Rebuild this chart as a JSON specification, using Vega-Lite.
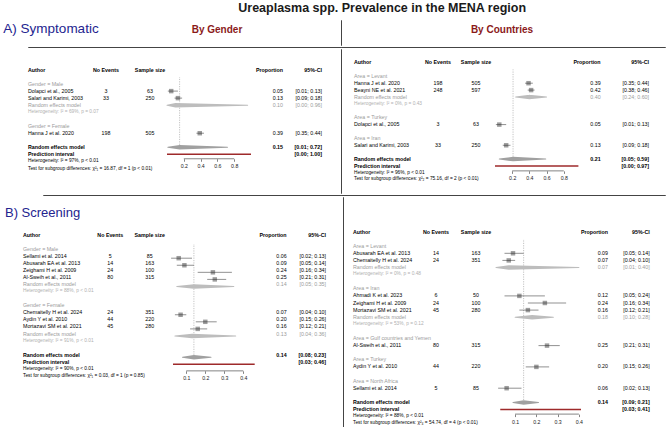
{
"$schema": "https://vega.github.io/schema/vega-lite/v6.json",
"padding": {"left": 0, "top": 2, "right": 0, "bottom": 0},
"title": {"text": "Ureaplasma spp. Prevalence in the MENA region", "anchor": "middle", "dx": 48, "fontSize": 12.5, "font": "Liberation Sans", "fontWeight": "bold", "color": "#1a1a1a", "offset": 5},
"config": {
 "view": {"stroke": null},
 "text": {"font": "Liberation Sans", "fontSize": 5.3},
 "axis": {"labelFont": "Liberation Sans", "labelOverlap": false, "labelFlush": false}
},
"datasets": {
 "none": [],
 "headers": [
  {"col": "author", "text": "Author"},
  {"col": "events", "text": "No Events"},
  {"col": "n", "text": "Sample size"},
  {"col": "p", "text": "Proportion"},
  {"col": "ci", "text": "95%-CI"}
 ],
 "rows": [
  {"panel":"A1","row":1,"type":"group","label":"Gender = Male"},
  {"panel":"A1","row":2,"type":"study","label":"Dolapci et al., 2005","events":3,"n":63,"p":0.05,"lo":0.01,"hi":0.13,"ci":"[0.01; 0.13]"},
  {"panel":"A1","row":3,"type":"study","label":"Salari and Karimi, 2003","events":33,"n":250,"p":0.13,"lo":0.09,"hi":0.18,"ci":"[0.09; 0.18]"},
  {"panel":"A1","row":4,"type":"sub","label":"Random effects model","p":0.10,"lo":0.00,"hi":0.96,"ci":"[0.00; 0.96]"},
  {"panel":"A1","row":5,"type":"het","label":"Heterogeneity: I² = 69%, p = 0.07"},
  {"panel":"A1","row":7,"type":"group","label":"Gender = Female"},
  {"panel":"A1","row":8,"type":"study","label":"Hanna J  et al. 2020","events":198,"n":505,"p":0.39,"lo":0.35,"hi":0.44,"ci":"[0.35; 0.44]"},
  {"panel":"A1","row":10,"type":"overall","label":"Random effects model","p":0.15,"lo":0.01,"hi":0.72,"ci":"[0.01; 0.72]"},
  {"panel":"A1","row":11,"type":"pi","label":"Prediction interval","lo":0.00,"hi":1.00,"ci":"[0.00; 1.00]"},
  {"panel":"A1","row":12,"type":"hetall","label":"Heterogeneity: I² = 97%, p < 0.01"},
  {"panel":"A1","row":13,"type":"test","label":"Test for subgroup differences: χ²₁ = 16.87, df = 1 (p < 0.01)"},

  {"panel":"A2","row":1,"type":"group","label":"Area = Levant"},
  {"panel":"A2","row":2,"type":"study","label":"Hanna J  et al. 2020","events":198,"n":505,"p":0.39,"lo":0.35,"hi":0.44,"ci":"[0.35; 0.44]"},
  {"panel":"A2","row":3,"type":"study","label":"Beayni NE et al. 2021","events":248,"n":597,"p":0.42,"lo":0.38,"hi":0.46,"ci":"[0.38; 0.46]"},
  {"panel":"A2","row":4,"type":"sub","label":"Random effects model","p":0.40,"lo":0.24,"hi":0.60,"ci":"[0.24; 0.60]"},
  {"panel":"A2","row":5,"type":"het","label":"Heterogeneity: I² = 0%, p = 0.43"},
  {"panel":"A2","row":7,"type":"group","label":"Area = Turkey"},
  {"panel":"A2","row":8,"type":"study","label":"Dolapci et al., 2005","events":3,"n":63,"p":0.05,"lo":0.01,"hi":0.13,"ci":"[0.01; 0.13]"},
  {"panel":"A2","row":10,"type":"group","label":"Area = Iran"},
  {"panel":"A2","row":11,"type":"study","label":"Salari and Karimi, 2003","events":33,"n":250,"p":0.13,"lo":0.09,"hi":0.18,"ci":"[0.09; 0.18]"},
  {"panel":"A2","row":13,"type":"overall","label":"Random effects model","p":0.21,"lo":0.05,"hi":0.59,"ci":"[0.05; 0.59]"},
  {"panel":"A2","row":14,"type":"pi","label":"Prediction interval","lo":0.00,"hi":0.97,"ci":"[0.00; 0.97]"},
  {"panel":"A2","row":15,"type":"hetall","label":"Heterogeneity: I² = 96%, p < 0.01"},
  {"panel":"A2","row":16,"type":"test","label":"Test for subgroup differences: χ²₂ = 75.16, df = 2 (p < 0.01)"},

  {"panel":"B1","row":1,"type":"group","label":"Gender = Male"},
  {"panel":"B1","row":2,"type":"study","label":"Sellami et al. 2014","events":5,"n":85,"p":0.06,"lo":0.02,"hi":0.13,"ci":"[0.02; 0.13]"},
  {"panel":"B1","row":3,"type":"study","label":"Abusarah EA et al. 2013","events":14,"n":163,"p":0.09,"lo":0.05,"hi":0.14,"ci":"[0.05; 0.14]"},
  {"panel":"B1","row":4,"type":"study","label":"Zeighami H et al. 2009","events":24,"n":100,"p":0.24,"lo":0.16,"hi":0.34,"ci":"[0.16; 0.34]"},
  {"panel":"B1","row":5,"type":"study","label":"Al-Sweih et al., 2011","events":80,"n":315,"p":0.25,"lo":0.21,"hi":0.31,"ci":"[0.21; 0.31]"},
  {"panel":"B1","row":6,"type":"sub","label":"Random effects model","p":0.14,"lo":0.05,"hi":0.35,"ci":"[0.05; 0.35]"},
  {"panel":"B1","row":7,"type":"het","label":"Heterogeneity: I² = 88%, p < 0.01"},
  {"panel":"B1","row":9,"type":"group","label":"Gender = Female"},
  {"panel":"B1","row":10,"type":"study","label":"Chemaitelly H et al. 2024","events":24,"n":351,"p":0.07,"lo":0.04,"hi":0.10,"ci":"[0.04; 0.10]"},
  {"panel":"B1","row":11,"type":"study","label":"Aydin Y et al. 2010","events":44,"n":220,"p":0.20,"lo":0.15,"hi":0.26,"ci":"[0.15; 0.26]"},
  {"panel":"B1","row":12,"type":"study","label":"Mortazavi SM et al. 2021","events":45,"n":280,"p":0.16,"lo":0.12,"hi":0.21,"ci":"[0.12; 0.21]"},
  {"panel":"B1","row":13,"type":"sub","label":"Random effects model","p":0.13,"lo":0.04,"hi":0.36,"ci":"[0.04; 0.36]"},
  {"panel":"B1","row":14,"type":"het","label":"Heterogeneity: I² = 91%, p < 0.01"},
  {"panel":"B1","row":16,"type":"overall","label":"Random effects model","p":0.14,"lo":0.08,"hi":0.23,"ci":"[0.08; 0.23]"},
  {"panel":"B1","row":17,"type":"pi","label":"Prediction interval","lo":0.03,"hi":0.46,"ci":"[0.03; 0.46]"},
  {"panel":"B1","row":18,"type":"hetall","label":"Heterogeneity: I² = 90%, p < 0.01"},
  {"panel":"B1","row":19,"type":"test","label":"Test for subgroup differences: χ²₁ = 0.03, df = 1 (p = 0.85)"},

  {"panel":"B2","row":1,"type":"group","label":"Area = Levant"},
  {"panel":"B2","row":2,"type":"study","label":"Abusarah EA et al. 2013","events":14,"n":163,"p":0.09,"lo":0.05,"hi":0.14,"ci":"[0.05; 0.14]"},
  {"panel":"B2","row":3,"type":"study","label":"Chemaitelly H et al. 2024","events":24,"n":351,"p":0.07,"lo":0.04,"hi":0.10,"ci":"[0.04; 0.10]"},
  {"panel":"B2","row":4,"type":"sub","label":"Random effects model","p":0.07,"lo":0.01,"hi":0.40,"ci":"[0.01; 0.40]"},
  {"panel":"B2","row":5,"type":"het","label":"Heterogeneity: I² = 0%, p = 0.48"},
  {"panel":"B2","row":7,"type":"group","label":"Area = Iran"},
  {"panel":"B2","row":8,"type":"study","label":"Ahmadi K et al. 2023","events":6,"n":50,"p":0.12,"lo":0.05,"hi":0.24,"ci":"[0.05; 0.24]"},
  {"panel":"B2","row":9,"type":"study","label":"Zeighami H et al. 2009","events":24,"n":100,"p":0.24,"lo":0.16,"hi":0.34,"ci":"[0.16; 0.34]"},
  {"panel":"B2","row":10,"type":"study","label":"Mortazavi SM et al. 2021","events":45,"n":280,"p":0.16,"lo":0.12,"hi":0.21,"ci":"[0.12; 0.21]"},
  {"panel":"B2","row":11,"type":"sub","label":"Random effects model","p":0.18,"lo":0.10,"hi":0.28,"ci":"[0.10; 0.28]"},
  {"panel":"B2","row":12,"type":"het","label":"Heterogeneity: I² = 53%, p = 0.12"},
  {"panel":"B2","row":14,"type":"group","label":"Area = Gulf countries and Yemen"},
  {"panel":"B2","row":15,"type":"study","label":"Al-Sweih et al., 2011","events":80,"n":315,"p":0.25,"lo":0.21,"hi":0.31,"ci":"[0.21; 0.31]"},
  {"panel":"B2","row":17,"type":"group","label":"Area = Turkey"},
  {"panel":"B2","row":18,"type":"study","label":"Aydin Y et al. 2010","events":44,"n":220,"p":0.20,"lo":0.15,"hi":0.26,"ci":"[0.15; 0.26]"},
  {"panel":"B2","row":20,"type":"group","label":"Area = North Africa"},
  {"panel":"B2","row":21,"type":"study","label":"Sellami et al. 2014","events":5,"n":85,"p":0.06,"lo":0.02,"hi":0.13,"ci":"[0.02; 0.13]"},
  {"panel":"B2","row":23,"type":"overall","label":"Random effects model","p":0.14,"lo":0.09,"hi":0.21,"ci":"[0.09; 0.21]"},
  {"panel":"B2","row":24,"type":"pi","label":"Prediction interval","lo":0.03,"hi":0.41,"ci":"[0.03; 0.41]"},
  {"panel":"B2","row":25,"type":"hetall","label":"Heterogeneity: I² = 88%, p < 0.01"},
  {"panel":"B2","row":26,"type":"test","label":"Test for subgroup differences: χ²₄ = 54.74, df = 4 (p < 0.01)"}
 ]
},
"spacing": 0,
"bounds": "full",
"vconcat": [
 {"spacing": 0, "bounds": "flush", "hconcat": [
  {"width": 102, "height": 25, "data": {"values": [{"t": "A) Symptomatic"}]}, "mark": {"type": "text", "fontSize": 13.5, "color": "#24248f", "baseline": "alphabetic", "align": "center"}, "encoding": {"text": {"field": "t"}}},
  {"width": 230, "height": 25, "data": {"values": [{"t": "By Gender"}]}, "mark": {"type": "text", "fontSize": 10, "fontWeight": "bold", "color": "#8b1a1a", "baseline": "alphabetic", "align": "center"}, "encoding": {"text": {"field": "t"}}},
  {"width": 9, "height": 0.001, "data": {"name": "none"}, "mark": "point"},
  {"width": 0.001, "height": 25, "data": {"name": "none"}, "mark": "point", "view": {"stroke": "#444", "strokeWidth": 1}},
  {"width": 320, "height": 25, "data": {"values": [{"t": "By Countries"}]}, "mark": {"type": "text", "fontSize": 10, "fontWeight": "bold", "color": "#8b1a1a", "baseline": "alphabetic", "align": "center"}, "encoding": {"text": {"field": "t"}}},
  {"width": 4, "height": 0.001, "data": {"name": "none"}, "mark": "point"}
 ]},
 {"spacing": 0, "bounds": "flush", "hconcat": [
  {"width": 28, "height": 0.001, "data": {"name": "none"}, "mark": "point"},
  {"width": 313, "height": 0.001, "data": {"name": "none"}, "mark": "point", "view": {"stroke": "#444", "strokeWidth": 1}},
  {"width": 324, "height": 0.001, "data": {"name": "none"}, "mark": "point", "view": {"stroke": "#444", "strokeWidth": 1}}
 ]},
 {"spacing": 0, "bounds": "flush", "hconcat": [
  {"width": 28, "height": 0.001, "data": {"name": "none"}, "mark": "point"},
  {"width": 51, "height": {"step": 7},
   "data": {"name": "rows"}, "transform": [{"filter": "datum.panel === 'A1'"}],
   "encoding": {"y": {"field": "row", "type": "ordinal", "scale": {"domain": ["t1","t2","h","g",1,2,3,4,5,6,7,8,9,10,11,12,13], "padding": 1.04}, "axis": null}},
   "layer": [
    {"data": {"name": "headers"}, "transform": [{"filter": "datum.col === 'author'"}], "mark": {"type": "text", "align": "left", "baseline": "middle", "fontWeight": "bold"}, "encoding": {"x": {"value": 0}, "y": {"datum": "h", "type": "ordinal"}, "text": {"field": "text"}}},
    {"transform": [{"filter": "datum.type !== 'overall' && datum.type !== 'pi'"}],
     "mark": {"type": "text", "align": "left", "baseline": "middle"},
     "encoding": {"x": {"value": 0}, "text": {"field": "label"},
      "color": {"condition": [{"test": "datum.type === 'group' || datum.type === 'sub'", "value": "#9b9b9b"}, {"test": "datum.type === 'het'", "value": "#b0b0b0"}], "value": "#000"},
      "size": {"condition": {"test": "datum.type === 'het' || datum.type === 'hetall' || datum.type === 'test'", "value": 4.8}, "value": 5.3}}},
    {"transform": [{"filter": "datum.type === 'overall' || datum.type === 'pi'"}],
     "mark": {"type": "text", "align": "left", "baseline": "middle", "fontWeight": "bold"},
     "encoding": {"x": {"value": 0}, "text": {"field": "label"}}}
   ]},
  {"width": 54, "height": {"step": 7},
   "data": {"name": "rows"}, "transform": [{"filter": "datum.panel === 'A1'"}],
   "encoding": {"y": {"field": "row", "type": "ordinal", "scale": {"domain": ["t1","t2","h","g",1,2,3,4,5,6,7,8,9,10,11,12,13], "padding": 1.04}, "axis": null}},
   "layer": [
    {"data": {"name": "headers"}, "transform": [{"filter": "datum.col === 'events'"}], "mark": {"type": "text", "align": "center", "baseline": "middle", "fontWeight": "bold"}, "encoding": {"y": {"datum": "h", "type": "ordinal"}, "text": {"field": "text"}}},
    {"transform": [{"filter": "datum.type === 'study'"}], "mark": {"type": "text", "align": "center", "baseline": "middle"}, "encoding": {"text": {"field": "events", "type": "quantitative"}}}
   ]},
  {"width": 34, "height": {"step": 7},
   "data": {"name": "rows"}, "transform": [{"filter": "datum.panel === 'A1'"}],
   "encoding": {"y": {"field": "row", "type": "ordinal", "scale": {"domain": ["t1","t2","h","g",1,2,3,4,5,6,7,8,9,10,11,12,13], "padding": 1.04}, "axis": null}},
   "layer": [
    {"data": {"name": "headers"}, "transform": [{"filter": "datum.col === 'n'"}], "mark": {"type": "text", "align": "center", "baseline": "middle", "fontWeight": "bold"}, "encoding": {"y": {"datum": "h", "type": "ordinal"}, "text": {"field": "text"}}},
    {"transform": [{"filter": "datum.type === 'study'"}], "mark": {"type": "text", "align": "center", "baseline": "middle"}, "encoding": {"text": {"field": "n", "type": "quantitative"}}}
   ]},
  {"width": 84, "height": {"step": 7},
   "data": {"name": "rows"}, "transform": [{"filter": "datum.panel === 'A1'"}],
   "encoding": {
    "y": {"field": "row", "type": "ordinal", "scale": {"domain": ["t1","t2","h","g",1,2,3,4,5,6,7,8,9,10,11], "padding": 1.04}, "axis": null},
    "x": {"field": "lo", "type": "quantitative", "scale": {"domain": [0, 1], "nice": false, "zero": false}, "axis": {"values": [0.2,0.4,0.6,0.8], "labelOverlap": false, "domain": false, "grid": false, "tickSize": 2.5, "tickWidth": 0.6, "tickColor": "#333", "labelFontSize": 5.2, "labelPadding": 2.5, "labelColor": "#222", "title": null, "offset": -2.5}}},
   "layer": [
    {"transform": [{"filter": "datum.type === 'overall'"}],
     "mark": {"type": "rule", "strokeDash": [1.2, 1.2], "color": "#9a9a9a", "strokeWidth": 0.6},
     "encoding": {"x": {"field": "p", "type": "quantitative"}, "y2": {"datum": "g"}}},
    {"transform": [{"filter": "datum.type === 'study'"}],
     "mark": {"type": "square", "filled": true, "color": "#9d9d9d", "size": 20, "opacity": 1},
     "encoding": {"x": {"field": "p", "type": "quantitative"}}},
    {"transform": [{"filter": "datum.type === 'study'"}],
     "mark": {"type": "rule", "color": "#222", "strokeWidth": 0.5},
     "encoding": {"x2": {"field": "hi"}}},
    {"transform": [{"filter": "datum.type === 'sub' || datum.type === 'overall'"}, {"fold": ["lo", "p", "hi"], "as": ["k", "v"]}],
     "mark": {"type": "trail"},
     "encoding": {"x": {"field": "v", "type": "quantitative"},
      "detail": {"field": "row", "type": "nominal"}, "order": {"field": "v", "type": "quantitative"},
      "size": {"condition": {"test": "datum.k === 'p'", "value": 4.5}, "value": 0},
      "color": {"condition": {"test": "datum.type === 'overall'", "value": "#a0a0a0"}, "value": "#bdbdbd"}}},
    {"transform": [{"filter": "datum.type === 'pi'"}],
     "mark": {"type": "rule", "color": "#9e2a2b", "strokeWidth": 1.6},
     "encoding": {"x2": {"field": "hi"}}},
    {"transform": [{"filter": "datum.type === 'pi'"}],
     "mark": {"type": "rule", "color": "#333", "strokeWidth": 0.6, "yOffset": -2.5},
     "encoding": {"x": {"datum": 0.2, "type": "quantitative"}, "x2": {"datum": 0.8}, "y": {"value": "height"}}}
   ]},
  {"width": 32, "height": {"step": 7},
   "data": {"name": "rows"}, "transform": [{"filter": "datum.panel === 'A1'"}],
   "encoding": {"y": {"field": "row", "type": "ordinal", "scale": {"domain": ["t1","t2","h","g",1,2,3,4,5,6,7,8,9,10,11,12,13], "padding": 1.04}, "axis": null}, "x": {"value": "width"}},
   "layer": [
    {"data": {"name": "headers"}, "transform": [{"filter": "datum.col === 'p'"}], "mark": {"type": "text", "align": "right", "baseline": "middle", "fontWeight": "bold"}, "encoding": {"y": {"datum": "h", "type": "ordinal"}, "text": {"field": "text"}}},
    {"transform": [{"filter": "datum.type === 'study' || datum.type === 'sub'"}], "mark": {"type": "text", "align": "right", "baseline": "middle"},
     "encoding": {"text": {"field": "p", "type": "quantitative", "format": ".2f"}, "color": {"condition": {"test": "datum.type === 'sub'", "value": "#9b9b9b"}, "value": "#000"}}},
    {"transform": [{"filter": "datum.type === 'overall'"}], "mark": {"type": "text", "align": "right", "baseline": "middle", "fontWeight": "bold"},
     "encoding": {"text": {"field": "p", "type": "quantitative", "format": ".2f"}}}
   ]},
  {"width": 39, "height": {"step": 7},
   "data": {"name": "rows"}, "transform": [{"filter": "datum.panel === 'A1'"}],
   "encoding": {"y": {"field": "row", "type": "ordinal", "scale": {"domain": ["t1","t2","h","g",1,2,3,4,5,6,7,8,9,10,11,12,13], "padding": 1.04}, "axis": null}, "x": {"value": "width"}},
   "layer": [
    {"data": {"name": "headers"}, "transform": [{"filter": "datum.col === 'ci'"}], "mark": {"type": "text", "align": "right", "baseline": "middle", "fontWeight": "bold"}, "encoding": {"y": {"datum": "h", "type": "ordinal"}, "text": {"field": "text"}}},
    {"transform": [{"filter": "datum.type === 'study' || datum.type === 'sub'"}], "mark": {"type": "text", "align": "right", "baseline": "middle"},
     "encoding": {"text": {"field": "ci"}, "color": {"condition": {"test": "datum.type === 'sub'", "value": "#9b9b9b"}, "value": "#000"}}},
    {"transform": [{"filter": "datum.type === 'overall' || datum.type === 'pi'"}], "mark": {"type": "text", "align": "right", "baseline": "middle", "fontWeight": "bold"},
     "encoding": {"text": {"field": "ci"}}}
   ]},
  {"width": 19, "height": 0.001, "data": {"name": "none"}, "mark": "point"},
  {"width": 0.001, "height": 144, "data": {"name": "none"}, "mark": "point", "view": {"stroke": "#444", "strokeWidth": 1}},
  {"width": 12, "height": 0.001, "data": {"name": "none"}, "mark": "point"},
  {"width": 65, "height": {"step": 6.9},
   "data": {"name": "rows"}, "transform": [{"filter": "datum.panel === 'A2'"}],
   "encoding": {"y": {"field": "row", "type": "ordinal", "scale": {"domain": ["t1","h","g",1,2,3,4,5,6,7,8,9,10,11,12,13,14,15,16], "padding": 0.91}, "axis": null}},
   "layer": [
    {"data": {"name": "headers"}, "transform": [{"filter": "datum.col === 'author'"}], "mark": {"type": "text", "align": "left", "baseline": "middle", "fontWeight": "bold"}, "encoding": {"x": {"value": 0}, "y": {"datum": "h", "type": "ordinal"}, "text": {"field": "text"}}},
    {"transform": [{"filter": "datum.type !== 'overall' && datum.type !== 'pi'"}],
     "mark": {"type": "text", "align": "left", "baseline": "middle"},
     "encoding": {"x": {"value": 0}, "text": {"field": "label"},
      "color": {"condition": [{"test": "datum.type === 'group' || datum.type === 'sub'", "value": "#9b9b9b"}, {"test": "datum.type === 'het'", "value": "#b0b0b0"}], "value": "#000"},
      "size": {"condition": {"test": "datum.type === 'het' || datum.type === 'hetall' || datum.type === 'test'", "value": 4.8}, "value": 5.3}}},
    {"transform": [{"filter": "datum.type === 'overall' || datum.type === 'pi'"}],
     "mark": {"type": "text", "align": "left", "baseline": "middle", "fontWeight": "bold"},
     "encoding": {"x": {"value": 0}, "text": {"field": "label"}}}
   ]},
  {"width": 38, "height": {"step": 6.9},
   "data": {"name": "rows"}, "transform": [{"filter": "datum.panel === 'A2'"}],
   "encoding": {"y": {"field": "row", "type": "ordinal", "scale": {"domain": ["t1","h","g",1,2,3,4,5,6,7,8,9,10,11,12,13,14,15,16], "padding": 0.91}, "axis": null}},
   "layer": [
    {"data": {"name": "headers"}, "transform": [{"filter": "datum.col === 'events'"}], "mark": {"type": "text", "align": "center", "baseline": "middle", "fontWeight": "bold"}, "encoding": {"y": {"datum": "h", "type": "ordinal"}, "text": {"field": "text"}}},
    {"transform": [{"filter": "datum.type === 'study'"}], "mark": {"type": "text", "align": "center", "baseline": "middle"}, "encoding": {"text": {"field": "events", "type": "quantitative"}}}
   ]},
  {"width": 38, "height": {"step": 6.9},
   "data": {"name": "rows"}, "transform": [{"filter": "datum.panel === 'A2'"}],
   "encoding": {"y": {"field": "row", "type": "ordinal", "scale": {"domain": ["t1","h","g",1,2,3,4,5,6,7,8,9,10,11,12,13,14,15,16], "padding": 0.91}, "axis": null}},
   "layer": [
    {"data": {"name": "headers"}, "transform": [{"filter": "datum.col === 'n'"}], "mark": {"type": "text", "align": "center", "baseline": "middle", "fontWeight": "bold"}, "encoding": {"y": {"datum": "h", "type": "ordinal"}, "text": {"field": "text"}}},
    {"transform": [{"filter": "datum.type === 'study'"}], "mark": {"type": "text", "align": "center", "baseline": "middle"}, "encoding": {"text": {"field": "n", "type": "quantitative"}}}
   ]},
  {"width": 83.4, "height": {"step": 6.9},
   "data": {"name": "rows"}, "transform": [{"filter": "datum.panel === 'A2'"}],
   "encoding": {
    "y": {"field": "row", "type": "ordinal", "scale": {"domain": ["t1","h","g",1,2,3,4,5,6,7,8,9,10,11,12,13,14], "padding": 0.91}, "axis": null},
    "x": {"field": "lo", "type": "quantitative", "scale": {"domain": [0, 0.97], "nice": false, "zero": false}, "axis": {"values": [0.2,0.4,0.6,0.8], "labelOverlap": false, "domain": false, "grid": false, "tickSize": 2.5, "tickWidth": 0.6, "tickColor": "#333", "labelFontSize": 5.2, "labelPadding": 2.5, "labelColor": "#222", "title": null, "offset": -1.7}}},
   "layer": [
    {"transform": [{"filter": "datum.type === 'overall'"}],
     "mark": {"type": "rule", "strokeDash": [1.2, 1.2], "color": "#9a9a9a", "strokeWidth": 0.6},
     "encoding": {"x": {"field": "p", "type": "quantitative"}, "y2": {"datum": "g"}}},
    {"transform": [{"filter": "datum.type === 'study'"}],
     "mark": {"type": "square", "filled": true, "color": "#9d9d9d", "size": 20, "opacity": 1},
     "encoding": {"x": {"field": "p", "type": "quantitative"}}},
    {"transform": [{"filter": "datum.type === 'study'"}],
     "mark": {"type": "rule", "color": "#222", "strokeWidth": 0.5},
     "encoding": {"x2": {"field": "hi"}}},
    {"transform": [{"filter": "datum.type === 'sub' || datum.type === 'overall'"}, {"fold": ["lo", "p", "hi"], "as": ["k", "v"]}],
     "mark": {"type": "trail"},
     "encoding": {"x": {"field": "v", "type": "quantitative"},
      "detail": {"field": "row", "type": "nominal"}, "order": {"field": "v", "type": "quantitative"},
      "size": {"condition": {"test": "datum.k === 'p'", "value": 4.5}, "value": 0},
      "color": {"condition": {"test": "datum.type === 'overall'", "value": "#a0a0a0"}, "value": "#bdbdbd"}}},
    {"transform": [{"filter": "datum.type === 'pi'"}],
     "mark": {"type": "rule", "color": "#9e2a2b", "strokeWidth": 1.6},
     "encoding": {"x2": {"field": "hi"}}},
    {"transform": [{"filter": "datum.type === 'pi'"}],
     "mark": {"type": "rule", "color": "#333", "strokeWidth": 0.6, "yOffset": -1.7},
     "encoding": {"x": {"datum": 0.2, "type": "quantitative"}, "x2": {"datum": 0.8}, "y": {"value": "height"}}}
   ]},
  {"width": 21.6, "height": {"step": 6.9},
   "data": {"name": "rows"}, "transform": [{"filter": "datum.panel === 'A2'"}],
   "encoding": {"y": {"field": "row", "type": "ordinal", "scale": {"domain": ["t1","h","g",1,2,3,4,5,6,7,8,9,10,11,12,13,14,15,16], "padding": 0.91}, "axis": null}, "x": {"value": "width"}},
   "layer": [
    {"data": {"name": "headers"}, "transform": [{"filter": "datum.col === 'p'"}], "mark": {"type": "text", "align": "right", "baseline": "middle", "fontWeight": "bold"}, "encoding": {"y": {"datum": "h", "type": "ordinal"}, "text": {"field": "text"}}},
    {"transform": [{"filter": "datum.type === 'study' || datum.type === 'sub'"}], "mark": {"type": "text", "align": "right", "baseline": "middle"},
     "encoding": {"text": {"field": "p", "type": "quantitative", "format": ".2f"}, "color": {"condition": {"test": "datum.type === 'sub'", "value": "#9b9b9b"}, "value": "#000"}}},
    {"transform": [{"filter": "datum.type === 'overall'"}], "mark": {"type": "text", "align": "right", "baseline": "middle", "fontWeight": "bold"},
     "encoding": {"text": {"field": "p", "type": "quantitative", "format": ".2f"}}}
   ]},
  {"width": 48, "height": {"step": 6.9},
   "data": {"name": "rows"}, "transform": [{"filter": "datum.panel === 'A2'"}],
   "encoding": {"y": {"field": "row", "type": "ordinal", "scale": {"domain": ["t1","h","g",1,2,3,4,5,6,7,8,9,10,11,12,13,14,15,16], "padding": 0.91}, "axis": null}, "x": {"value": "width"}},
   "layer": [
    {"data": {"name": "headers"}, "transform": [{"filter": "datum.col === 'ci'"}], "mark": {"type": "text", "align": "right", "baseline": "middle", "fontWeight": "bold"}, "encoding": {"y": {"datum": "h", "type": "ordinal"}, "text": {"field": "text"}}},
    {"transform": [{"filter": "datum.type === 'study' || datum.type === 'sub'"}], "mark": {"type": "text", "align": "right", "baseline": "middle"},
     "encoding": {"text": {"field": "ci"}, "color": {"condition": {"test": "datum.type === 'sub'", "value": "#9b9b9b"}, "value": "#000"}}},
    {"transform": [{"filter": "datum.type === 'overall' || datum.type === 'pi'"}], "mark": {"type": "text", "align": "right", "baseline": "middle", "fontWeight": "bold"},
     "encoding": {"text": {"field": "ci"}}}
   ]},
  {"width": 18, "height": 0.001, "data": {"name": "none"}, "mark": "point"}
 ]},
 {"spacing": 0, "bounds": "flush", "hconcat": [
  {"width": 43, "height": 0.001, "data": {"name": "none"}, "mark": "point"},
  {"width": 298, "height": 0.001, "data": {"name": "none"}, "mark": "point", "view": {"stroke": "#444", "strokeWidth": 1}},
  {"width": 324, "height": 0.001, "data": {"name": "none"}, "mark": "point", "view": {"stroke": "#444", "strokeWidth": 1}}
 ]},
 {"spacing": 0, "bounds": "flush", "hconcat": [
  {"width": 5, "height": 0.001, "data": {"name": "none"}, "mark": "point"},
  {"width": 17.7, "height": {"step": 7.07},
   "data": {"values": [{"t": "B) Screening"}]},
   "mark": {"type": "text", "align": "left", "baseline": "middle", "fontSize": 13, "color": "#24248f"},
   "encoding": {"x": {"value": 0}, "y": {"datum": "b3", "type": "ordinal", "scale": {"domain": ["b1","b2","b3","b4","b5"], "padding": 0.31}, "axis": null}, "text": {"field": "t"}}},
  {"width": 71, "height": {"step": 7.07},
   "data": {"name": "rows"}, "transform": [{"filter": "datum.panel === 'B1'"}],
   "encoding": {"y": {"field": "row", "type": "ordinal", "scale": {"domain": ["b1","b2","b3","b4","b5","h","g",1,2,3,4,5,6,7,8,9,10,11,12,13,14,15,16,17,18,19], "padding": 0.31}, "axis": null}},
   "layer": [
    {"data": {"name": "headers"}, "transform": [{"filter": "datum.col === 'author'"}], "mark": {"type": "text", "align": "left", "baseline": "middle", "fontWeight": "bold"}, "encoding": {"x": {"value": 0}, "y": {"datum": "h", "type": "ordinal"}, "text": {"field": "text"}}},
    {"transform": [{"filter": "datum.type !== 'overall' && datum.type !== 'pi'"}],
     "mark": {"type": "text", "align": "left", "baseline": "middle"},
     "encoding": {"x": {"value": 0}, "text": {"field": "label"},
      "color": {"condition": [{"test": "datum.type === 'group' || datum.type === 'sub'", "value": "#9b9b9b"}, {"test": "datum.type === 'het'", "value": "#b0b0b0"}], "value": "#000"},
      "size": {"condition": {"test": "datum.type === 'het' || datum.type === 'hetall' || datum.type === 'test'", "value": 4.8}, "value": 5.3}}},
    {"transform": [{"filter": "datum.type === 'overall' || datum.type === 'pi'"}],
     "mark": {"type": "text", "align": "left", "baseline": "middle", "fontWeight": "bold"},
     "encoding": {"x": {"value": 0}, "text": {"field": "label"}}}
   ]},
  {"width": 32.6, "height": {"step": 7.07},
   "data": {"name": "rows"}, "transform": [{"filter": "datum.panel === 'B1'"}],
   "encoding": {"y": {"field": "row", "type": "ordinal", "scale": {"domain": ["b1","b2","b3","b4","b5","h","g",1,2,3,4,5,6,7,8,9,10,11,12,13,14,15,16,17,18,19], "padding": 0.31}, "axis": null}},
   "layer": [
    {"data": {"name": "headers"}, "transform": [{"filter": "datum.col === 'events'"}], "mark": {"type": "text", "align": "center", "baseline": "middle", "fontWeight": "bold"}, "encoding": {"y": {"datum": "h", "type": "ordinal"}, "text": {"field": "text"}}},
    {"transform": [{"filter": "datum.type === 'study'"}], "mark": {"type": "text", "align": "center", "baseline": "middle"}, "encoding": {"text": {"field": "events", "type": "quantitative"}}}
   ]},
  {"width": 45.4, "height": {"step": 7.07},
   "data": {"name": "rows"}, "transform": [{"filter": "datum.panel === 'B1'"}],
   "encoding": {"y": {"field": "row", "type": "ordinal", "scale": {"domain": ["b1","b2","b3","b4","b5","h","g",1,2,3,4,5,6,7,8,9,10,11,12,13,14,15,16,17,18,19], "padding": 0.31}, "axis": null}},
   "layer": [
    {"data": {"name": "headers"}, "transform": [{"filter": "datum.col === 'n'"}], "mark": {"type": "text", "align": "center", "baseline": "middle", "fontWeight": "bold"}, "encoding": {"y": {"datum": "h", "type": "ordinal"}, "text": {"field": "text"}}},
    {"transform": [{"filter": "datum.type === 'study'"}], "mark": {"type": "text", "align": "center", "baseline": "middle"}, "encoding": {"text": {"field": "n", "type": "quantitative"}}}
   ]},
  {"width": 81.7, "height": {"step": 7.07},
   "data": {"name": "rows"}, "transform": [{"filter": "datum.panel === 'B1'"}],
   "encoding": {
    "y": {"field": "row", "type": "ordinal", "scale": {"domain": ["b1","b2","b3","b4","b5","h","g",1,2,3,4,5,6,7,8,9,10,11,12,13,14,15,16,17], "padding": 0.31}, "axis": null},
    "x": {"field": "lo", "type": "quantitative", "scale": {"domain": [0.03, 0.46], "nice": false, "zero": false}, "axis": {"values": [0.1,0.2,0.3,0.4], "labelOverlap": false, "domain": false, "grid": false, "tickSize": 2.5, "tickWidth": 0.6, "tickColor": "#333", "labelFontSize": 5.2, "labelPadding": 2.5, "labelColor": "#222", "title": null, "offset": 2}}},
   "layer": [
    {"transform": [{"filter": "datum.type === 'overall'"}],
     "mark": {"type": "rule", "strokeDash": [1.2, 1.2], "color": "#9a9a9a", "strokeWidth": 0.6},
     "encoding": {"x": {"field": "p", "type": "quantitative"}, "y2": {"datum": "g"}}},
    {"transform": [{"filter": "datum.type === 'study'"}],
     "mark": {"type": "square", "filled": true, "color": "#9d9d9d", "size": 20, "opacity": 1},
     "encoding": {"x": {"field": "p", "type": "quantitative"}}},
    {"transform": [{"filter": "datum.type === 'study'"}],
     "mark": {"type": "rule", "color": "#222", "strokeWidth": 0.5},
     "encoding": {"x2": {"field": "hi"}}},
    {"transform": [{"filter": "datum.type === 'sub' || datum.type === 'overall'"}, {"fold": ["lo", "p", "hi"], "as": ["k", "v"]}],
     "mark": {"type": "trail"},
     "encoding": {"x": {"field": "v", "type": "quantitative"},
      "detail": {"field": "row", "type": "nominal"}, "order": {"field": "v", "type": "quantitative"},
      "size": {"condition": {"test": "datum.k === 'p'", "value": 4.5}, "value": 0},
      "color": {"condition": {"test": "datum.type === 'overall'", "value": "#a0a0a0"}, "value": "#bdbdbd"}}},
    {"transform": [{"filter": "datum.type === 'pi'"}],
     "mark": {"type": "rule", "color": "#9e2a2b", "strokeWidth": 1.6},
     "encoding": {"x2": {"field": "hi"}}},
    {"transform": [{"filter": "datum.type === 'pi'"}],
     "mark": {"type": "rule", "color": "#333", "strokeWidth": 0.6, "yOffset": 2},
     "encoding": {"x": {"datum": 0.1, "type": "quantitative"}, "x2": {"datum": 0.4}, "y": {"value": "height"}}}
   ]},
  {"width": 31.6, "height": {"step": 7.07},
   "data": {"name": "rows"}, "transform": [{"filter": "datum.panel === 'B1'"}],
   "encoding": {"y": {"field": "row", "type": "ordinal", "scale": {"domain": ["b1","b2","b3","b4","b5","h","g",1,2,3,4,5,6,7,8,9,10,11,12,13,14,15,16,17,18,19], "padding": 0.31}, "axis": null}, "x": {"value": "width"}},
   "layer": [
    {"data": {"name": "headers"}, "transform": [{"filter": "datum.col === 'p'"}], "mark": {"type": "text", "align": "right", "baseline": "middle", "fontWeight": "bold"}, "encoding": {"y": {"datum": "h", "type": "ordinal"}, "text": {"field": "text"}}},
    {"transform": [{"filter": "datum.type === 'study' || datum.type === 'sub'"}], "mark": {"type": "text", "align": "right", "baseline": "middle"},
     "encoding": {"text": {"field": "p", "type": "quantitative", "format": ".2f"}, "color": {"condition": {"test": "datum.type === 'sub'", "value": "#9b9b9b"}, "value": "#000"}}},
    {"transform": [{"filter": "datum.type === 'overall'"}], "mark": {"type": "text", "align": "right", "baseline": "middle", "fontWeight": "bold"},
     "encoding": {"text": {"field": "p", "type": "quantitative", "format": ".2f"}}}
   ]},
  {"width": 39, "height": {"step": 7.07},
   "data": {"name": "rows"}, "transform": [{"filter": "datum.panel === 'B1'"}],
   "encoding": {"y": {"field": "row", "type": "ordinal", "scale": {"domain": ["b1","b2","b3","b4","b5","h","g",1,2,3,4,5,6,7,8,9,10,11,12,13,14,15,16,17,18,19], "padding": 0.31}, "axis": null}, "x": {"value": "width"}},
   "layer": [
    {"data": {"name": "headers"}, "transform": [{"filter": "datum.col === 'ci'"}], "mark": {"type": "text", "align": "right", "baseline": "middle", "fontWeight": "bold"}, "encoding": {"y": {"datum": "h", "type": "ordinal"}, "text": {"field": "text"}}},
    {"transform": [{"filter": "datum.type === 'study' || datum.type === 'sub'"}], "mark": {"type": "text", "align": "right", "baseline": "middle"},
     "encoding": {"text": {"field": "ci"}, "color": {"condition": {"test": "datum.type === 'sub'", "value": "#9b9b9b"}, "value": "#000"}}},
    {"transform": [{"filter": "datum.type === 'overall' || datum.type === 'pi'"}], "mark": {"type": "text", "align": "right", "baseline": "middle", "fontWeight": "bold"},
     "encoding": {"text": {"field": "ci"}}}
   ]},
  {"width": 17, "height": 0.001, "data": {"name": "none"}, "mark": "point"},
  {"width": 0.001, "height": 233, "data": {"name": "none"}, "mark": "point", "view": {"stroke": "#444", "strokeWidth": 1}},
  {"width": 9, "height": 0.001, "data": {"name": "none"}, "mark": "point"},
  {"width": 63, "height": {"step": 7.1},
   "data": {"name": "rows"}, "transform": [{"filter": "datum.panel === 'B2'"}],
   "encoding": {"y": {"field": "row", "type": "ordinal", "scale": {"domain": ["b1","b2","b3","b4","h","g",1,2,3,4,5,6,7,8,9,10,11,12,13,14,15,16,17,18,19,20,21,22,23,24,25,26], "padding": 0.86}, "axis": null}},
   "layer": [
    {"data": {"name": "headers"}, "transform": [{"filter": "datum.col === 'author'"}], "mark": {"type": "text", "align": "left", "baseline": "middle", "fontWeight": "bold"}, "encoding": {"x": {"value": 0}, "y": {"datum": "h", "type": "ordinal"}, "text": {"field": "text"}}},
    {"transform": [{"filter": "datum.type !== 'overall' && datum.type !== 'pi'"}],
     "mark": {"type": "text", "align": "left", "baseline": "middle"},
     "encoding": {"x": {"value": 0}, "text": {"field": "label"},
      "color": {"condition": [{"test": "datum.type === 'group' || datum.type === 'sub'", "value": "#9b9b9b"}, {"test": "datum.type === 'het'", "value": "#b0b0b0"}], "value": "#000"},
      "size": {"condition": {"test": "datum.type === 'het' || datum.type === 'hetall' || datum.type === 'test'", "value": 4.8}, "value": 5.3}}},
    {"transform": [{"filter": "datum.type === 'overall' || datum.type === 'pi'"}],
     "mark": {"type": "text", "align": "left", "baseline": "middle", "fontWeight": "bold"},
     "encoding": {"x": {"value": 0}, "text": {"field": "label"}}}
   ]},
  {"width": 40, "height": {"step": 7.1},
   "data": {"name": "rows"}, "transform": [{"filter": "datum.panel === 'B2'"}],
   "encoding": {"y": {"field": "row", "type": "ordinal", "scale": {"domain": ["b1","b2","b3","b4","h","g",1,2,3,4,5,6,7,8,9,10,11,12,13,14,15,16,17,18,19,20,21,22,23,24,25,26], "padding": 0.86}, "axis": null}},
   "layer": [
    {"data": {"name": "headers"}, "transform": [{"filter": "datum.col === 'events'"}], "mark": {"type": "text", "align": "center", "baseline": "middle", "fontWeight": "bold"}, "encoding": {"y": {"datum": "h", "type": "ordinal"}, "text": {"field": "text"}}},
    {"transform": [{"filter": "datum.type === 'study'"}], "mark": {"type": "text", "align": "center", "baseline": "middle"}, "encoding": {"text": {"field": "events", "type": "quantitative"}}}
   ]},
  {"width": 40, "height": {"step": 7.1},
   "data": {"name": "rows"}, "transform": [{"filter": "datum.panel === 'B2'"}],
   "encoding": {"y": {"field": "row", "type": "ordinal", "scale": {"domain": ["b1","b2","b3","b4","h","g",1,2,3,4,5,6,7,8,9,10,11,12,13,14,15,16,17,18,19,20,21,22,23,24,25,26], "padding": 0.86}, "axis": null}},
   "layer": [
    {"data": {"name": "headers"}, "transform": [{"filter": "datum.col === 'n'"}], "mark": {"type": "text", "align": "center", "baseline": "middle", "fontWeight": "bold"}, "encoding": {"y": {"datum": "h", "type": "ordinal"}, "text": {"field": "text"}}},
    {"transform": [{"filter": "datum.type === 'study'"}], "mark": {"type": "text", "align": "center", "baseline": "middle"}, "encoding": {"text": {"field": "n", "type": "quantitative"}}}
   ]},
  {"width": 85, "height": {"step": 7.1},
   "data": {"name": "rows"}, "transform": [{"filter": "datum.panel === 'B2'"}],
   "encoding": {
    "y": {"field": "row", "type": "ordinal", "scale": {"domain": ["b1","b2","b3","b4","h","g",1,2,3,4,5,6,7,8,9,10,11,12,13,14,15,16,17,18,19,20,21,22,23,24], "padding": 0.86}, "axis": null},
    "x": {"field": "lo", "type": "quantitative", "scale": {"domain": [0.01, 0.41], "nice": false, "zero": false}, "axis": {"values": [0.1,0.2,0.3,0.4], "labelOverlap": false, "domain": false, "grid": false, "tickSize": 2.5, "tickWidth": 0.6, "tickColor": "#333", "labelFontSize": 5.2, "labelPadding": 2.5, "labelColor": "#222", "title": null, "offset": -2}}},
   "layer": [
    {"transform": [{"filter": "datum.type === 'overall'"}],
     "mark": {"type": "rule", "strokeDash": [1.2, 1.2], "color": "#9a9a9a", "strokeWidth": 0.6},
     "encoding": {"x": {"field": "p", "type": "quantitative"}, "y2": {"datum": "g"}}},
    {"transform": [{"filter": "datum.type === 'study'"}],
     "mark": {"type": "square", "filled": true, "color": "#9d9d9d", "size": 20, "opacity": 1},
     "encoding": {"x": {"field": "p", "type": "quantitative"}}},
    {"transform": [{"filter": "datum.type === 'study'"}],
     "mark": {"type": "rule", "color": "#222", "strokeWidth": 0.5},
     "encoding": {"x2": {"field": "hi"}}},
    {"transform": [{"filter": "datum.type === 'sub' || datum.type === 'overall'"}, {"fold": ["lo", "p", "hi"], "as": ["k", "v"]}],
     "mark": {"type": "trail"},
     "encoding": {"x": {"field": "v", "type": "quantitative"},
      "detail": {"field": "row", "type": "nominal"}, "order": {"field": "v", "type": "quantitative"},
      "size": {"condition": {"test": "datum.k === 'p'", "value": 4.5}, "value": 0},
      "color": {"condition": {"test": "datum.type === 'overall'", "value": "#a0a0a0"}, "value": "#bdbdbd"}}},
    {"transform": [{"filter": "datum.type === 'pi'"}],
     "mark": {"type": "rule", "color": "#9e2a2b", "strokeWidth": 1.6},
     "encoding": {"x2": {"field": "hi"}}},
    {"transform": [{"filter": "datum.type === 'pi'"}],
     "mark": {"type": "rule", "color": "#333", "strokeWidth": 0.6, "yOffset": -2},
     "encoding": {"x": {"datum": 0.1, "type": "quantitative"}, "x2": {"datum": 0.4}, "y": {"value": "height"}}}
   ]},
  {"width": 27, "height": {"step": 7.1},
   "data": {"name": "rows"}, "transform": [{"filter": "datum.panel === 'B2'"}],
   "encoding": {"y": {"field": "row", "type": "ordinal", "scale": {"domain": ["b1","b2","b3","b4","h","g",1,2,3,4,5,6,7,8,9,10,11,12,13,14,15,16,17,18,19,20,21,22,23,24,25,26], "padding": 0.86}, "axis": null}, "x": {"value": "width"}},
   "layer": [
    {"data": {"name": "headers"}, "transform": [{"filter": "datum.col === 'p'"}], "mark": {"type": "text", "align": "right", "baseline": "middle", "fontWeight": "bold"}, "encoding": {"y": {"datum": "h", "type": "ordinal"}, "text": {"field": "text"}}},
    {"transform": [{"filter": "datum.type === 'study' || datum.type === 'sub'"}], "mark": {"type": "text", "align": "right", "baseline": "middle"},
     "encoding": {"text": {"field": "p", "type": "quantitative", "format": ".2f"}, "color": {"condition": {"test": "datum.type === 'sub'", "value": "#9b9b9b"}, "value": "#000"}}},
    {"transform": [{"filter": "datum.type === 'overall'"}], "mark": {"type": "text", "align": "right", "baseline": "middle", "fontWeight": "bold"},
     "encoding": {"text": {"field": "p", "type": "quantitative", "format": ".2f"}}}
   ]},
  {"width": 41.7, "height": {"step": 7.1},
   "data": {"name": "rows"}, "transform": [{"filter": "datum.panel === 'B2'"}],
   "encoding": {"y": {"field": "row", "type": "ordinal", "scale": {"domain": ["b1","b2","b3","b4","h","g",1,2,3,4,5,6,7,8,9,10,11,12,13,14,15,16,17,18,19,20,21,22,23,24,25,26], "padding": 0.86}, "axis": null}, "x": {"value": "width"}},
   "layer": [
    {"data": {"name": "headers"}, "transform": [{"filter": "datum.col === 'ci'"}], "mark": {"type": "text", "align": "right", "baseline": "middle", "fontWeight": "bold"}, "encoding": {"y": {"datum": "h", "type": "ordinal"}, "text": {"field": "text"}}},
    {"transform": [{"filter": "datum.type === 'study' || datum.type === 'sub'"}], "mark": {"type": "text", "align": "right", "baseline": "middle"},
     "encoding": {"text": {"field": "ci"}, "color": {"condition": {"test": "datum.type === 'sub'", "value": "#9b9b9b"}, "value": "#000"}}},
    {"transform": [{"filter": "datum.type === 'overall' || datum.type === 'pi'"}], "mark": {"type": "text", "align": "right", "baseline": "middle", "fontWeight": "bold"},
     "encoding": {"text": {"field": "ci"}}}
   ]},
  {"width": 18.3, "height": 0.001, "data": {"name": "none"}, "mark": "point"}
 ]}
]
}
